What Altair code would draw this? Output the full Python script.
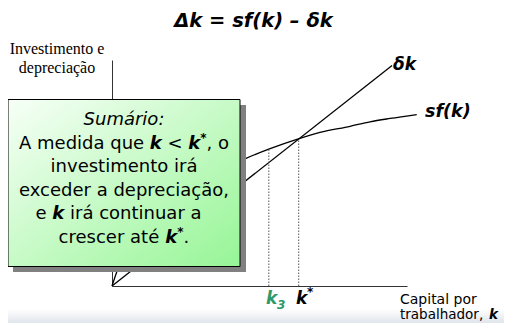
import altair as alt
import pandas as pd

# ---- data (economic units) ----
k_delta = [0, 15.0]
delta_k = [0, 11.8]

k_sf = [0, 0.5, 1.5, 3.0, 5.0, 7.12, 8.43, 9.98, 11.14, 12.75, 13.82, 14.89, 16.32]
sf_k = [0, 1.4, 2.9, 4.4, 5.8, 6.81, 7.34, 7.88, 8.22, 8.55, 8.79, 8.97, 9.18]

k_marks = [8.4, 10.0]          # k3, k*
k_marks_top = [7.34, 7.88]     # sf(k) at those points

W, H = 295, 226
xs = alt.Scale(domain=[0, 15.8], nice=False, zero=False)
ys = alt.Scale(domain=[0, 12.1], nice=False, zero=False)

one = pd.DataFrame({"a": [0]})

delta_df = pd.DataFrame({"k": k_delta, "v": delta_k})
sf_df = pd.DataFrame({"k": k_sf, "v": sf_k})
marks_df = pd.DataFrame({"k": k_marks, "top": k_marks_top, "zero": [0, 0]})

ax_x = alt.Axis(labels=False, ticks=False, grid=False, title=None, domainColor="#333333", domainWidth=1)
ax_y = alt.Axis(labels=False, ticks=False, grid=False, title=None, domainColor="#333333", domainWidth=1)

delta_line = alt.Chart(delta_df).mark_line(color="black", strokeWidth=1.3).encode(
    x=alt.X("k:Q", scale=xs, axis=ax_x),
    y=alt.Y("v:Q", scale=ys, axis=ax_y),
)
sf_line = alt.Chart(sf_df).mark_line(color="black", strokeWidth=1.3, interpolate="monotone").encode(
    x=alt.X("k:Q", scale=xs),
    y=alt.Y("v:Q", scale=ys),
)
dotted = alt.Chart(marks_df).mark_rule(color="#555555", strokeWidth=1, strokeDash=[1.5, 1.5]).encode(
    x=alt.X("k:Q", scale=xs),
    y=alt.Y("zero:Q", scale=ys),
    y2="top:Q",
)


def rect(x1, x2, y1, y2, color, stroke=None):
    kw = dict(color=color)
    if stroke:
        kw.update(stroke=stroke, strokeWidth=1)
    return alt.Chart(one).mark_rect(**kw).encode(
        x=alt.value(x1), x2=alt.value(x2), y=alt.value(y1), y2=alt.value(y2)
    )


def txt(s, x, y, size=18, font="DejaVu Sans", style="normal", weight="normal",
        align="left", color="black"):
    return alt.Chart(one).mark_text(
        text=s, font=font, fontSize=size, fontStyle=style, fontWeight=weight,
        align=align, baseline="middle", color=color
    ).encode(x=alt.value(x), y=alt.value(y))


band = rect(-104, 392, 249, 263, alt.Gradient(
    gradient="linear", x1=0, y1=0, x2=0, y2=1,
    stops=[alt.GradientStop(color="#ffffff", offset=0), alt.GradientStop(color="#e0e5ec", offset=1)]))
shadow = rect(-99, 134, 45, 212, "#808080")
box = rect(-104, 128, 39.5, 206.5, alt.Gradient(
    gradient="linear", x1=0, y1=0, x2=1, y2=1,
    stops=[alt.GradientStop(color="#f7fff7", offset=0), alt.GradientStop(color="#96f596", offset=1)]),
    stroke="black")

BI = dict(style="italic", weight="bold")
texts = [
    # title
    txt("\u0394k = sf(k) \u2013 \u03b4k", 141.5, -39, size=19.5, align="center", **BI),
    # y-axis title
    txt("Investimento e", -55, -11, size=16, font="Liberation Serif", align="center"),
    txt("depreciação", -55, 8, size=16, font="Liberation Serif", align="center"),
    # curve labels
    txt("\u03b4k", 281, 5, size=17, **BI),
    txt("sf(k)", 313, 52, size=17.5, **BI),
    # x-axis labels
    txt("k", 154, 238.5, size=17, color="#2f9a68", **BI),
    txt("3", 165, 245, size=12, color="#2f9a68", **BI),
    txt("k", 184, 238.5, size=17, **BI),
    txt("*", 195, 232, size=12, **BI),
    txt("Capital por", 288, 240, size=14),
    txt("trabalhador,", 288, 254.5, size=13.5),
    txt("k", 377, 254.5, size=13.5, **BI),
    # box text
    txt("Sumário:", 12, 60, style="italic", align="center"),
    txt("A medida que", -93, 83.5),
    txt("k", 37.8, 83.5, **BI),
    txt("<", 55.5, 83.5),
    txt("k", 76.3, 83.5, **BI),
    txt("*", 88.3, 77.5, size=12, **BI),
    txt(", o", 94.6, 83.5),
    txt("investimento irá", 12, 107, align="center"),
    txt("exceder a depreciação,", 12, 130.5, align="center"),
    txt("e", -76.5, 154),
    txt("k", -59.7, 154, **BI),
    txt("irá continuar a", -42, 154),
    txt("crescer até", -53.4, 177.5),
    txt("k", 53.3, 177.5, **BI),
    txt("*", 65.3, 171.5, size=12, **BI),
    txt(".", 71.6, 177.5),
]

chart = alt.layer(
    band, delta_line, sf_line, dotted, shadow, box, *texts
).properties(
    width=W, height=H,
    padding={"left": 104, "top": 52, "right": 97, "bottom": 37},
    autosize=alt.AutoSizeParams(type="none"),
    background="white",
).configure_view(stroke=None)

chart.save("out.html", embed_options={"renderer": "svg", "actions": False})
